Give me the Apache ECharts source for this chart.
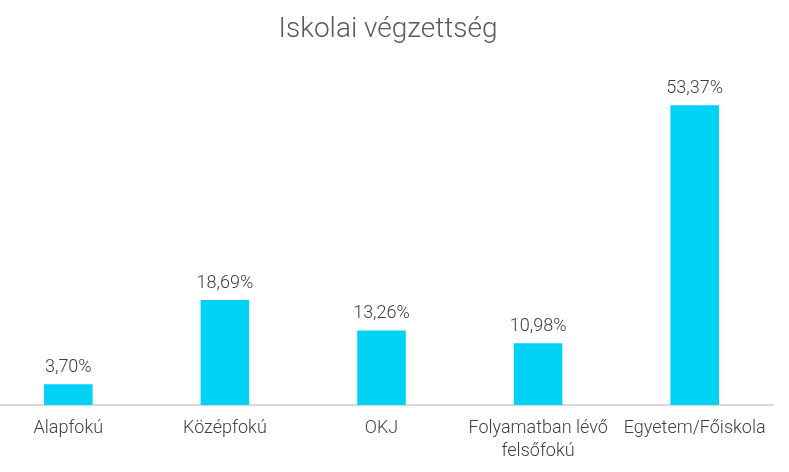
<!DOCTYPE html>
<html><head><meta charset="utf-8">
<script src="https://cdn.jsdelivr.net/npm/echarts@6/dist/echarts.min.js"></script>
<style>html,body{margin:0;padding:0;background:#fff;overflow:hidden}#c{position:absolute;left:-10px;top:0;width:799px;height:472px}</style>
</head><body><div id="c"></div>
<script>
const title = "Iskolai végzettség";
const categories = ["Alapfokú", "Középfokú", "OKJ", "Folyamatban lévő\nfelsőfokú", "Egyetem/Főiskola"];
const values = [3.70, 18.69, 13.26, 10.98, 53.37];

const chart = echarts.init(document.getElementById('c'));
chart.setOption({
  animation: false,
  title: { text: title, left: 393, top: 11, textAlign: 'center',
    textStyle: { fontFamily: 'Roboto', fontWeight: 300, fontSize: 28, color: '#595959' } },
  grid: { left: 0, right: 16, top: 68, bottom: 67, containLabel: false },
  xAxis: { type: 'category', data: categories,
    axisLine: { lineStyle: { color: '#d9d9d9', width: 2 } },
    axisTick: { show: false },
    axisLabel: { interval: 0, margin: 12, lineHeight: 23, fontFamily: 'Roboto', fontWeight: 300, fontSize: 18, color: '#404040' } },
  yAxis: { type: 'value', min: 0, max: 60, show: false, splitLine: { show: false } },
  series: [{ type: 'bar', data: values, barWidth: '31%',
    itemStyle: { color: '#00D2F6' },
    label: { show: true, position: 'top', distance: 8, fontFamily: 'Roboto', fontWeight: 300, fontSize: 18, color: '#404040',
      formatter: p => p.value.toFixed(2).replace('.', ',') + '%' } }]
});
</script></body></html>
